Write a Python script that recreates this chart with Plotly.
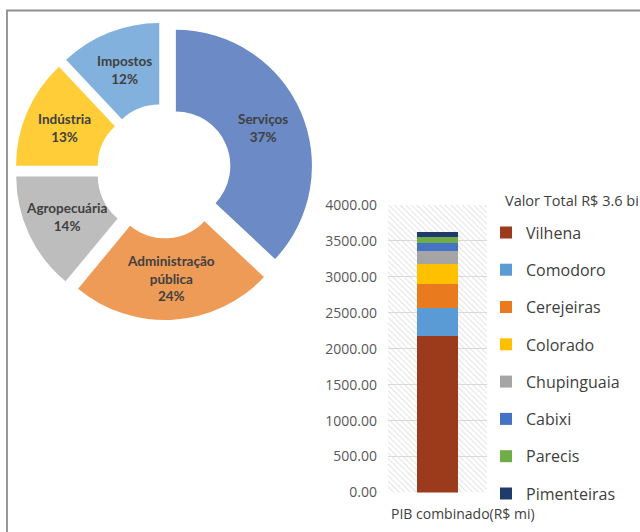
import base64
import math
import plotly.graph_objects as go

# Composição do PIB por setor (%)
setores = ["Serviços", "Administração<br>pública", "Agropecuária", "Indústria", "Impostos"]
participacao = [37, 24, 14, 13, 12]
cores_setores = ["#6b8ac6", "#ee9b57", "#bdbdbd", "#ffcd38", "#83b1dd"]

# PIB por município (R$ mi)
municipios = ["Vilhena", "Comodoro", "Cerejeiras", "Colorado",
              "Chupinguaia", "Cabixi", "Parecis", "Pimenteiras"]
pib = [2175, 395, 325, 280, 185, 115, 80, 75]
cores_municipios = ["#9c3b1c", "#5b9bd5", "#ea7a1e", "#ffc000",
                    "#a5a5a5", "#4472c4", "#70ad47", "#1f3b6b"]
categoria = ["PIB combinado(R$ mi)"]
titulo_legenda = "Valor Total R$ 3.6 bi"
y_ticks = [0, 500, 1000, 1500, 2000, 2500, 3000, 3500, 4000]

W, H = 640, 532
FONT = "Open Sans"
FONT_PIE = "Lato"


def px(x):
    return x / W


def py(y):
    return 1 - y / H


fig = go.Figure()

# Donut of the sector shares (exploded slices)
cx, cy, half = 164, 171, 149
HOLE, PULL = 0.40, 0.095
fig.add_trace(go.Pie(
    labels=setores,
    values=participacao,
    marker=dict(colors=cores_setores, line=dict(width=0)),
    hole=HOLE,
    pull=[PULL] * len(setores),
    sort=False,
    direction="clockwise",
    rotation=0,
    textinfo="none",
    hoverinfo="label+percent",
    showlegend=False,
    domain=dict(x=[px(cx - half), px(cx + half)], y=[py(cy + half), py(cy - half)]),
))

# Slice labels at the middle of each (pulled) ring segment
radius = 2 * half / (2 + 2 * PULL)
r_text = radius * (1 + HOLE) / 2 + radius * PULL
total = sum(participacao)
annotations = []
acc = 0
for lab, v in zip(setores, participacao):
    ang = 2 * math.pi * (acc + v / 2) / total
    acc += v
    tx = cx + r_text * math.sin(ang)
    ty = cy - r_text * math.cos(ang)
    annotations.append(dict(
        text=f"<b>{lab}<br>{round(100 * v / total)}%</b>",
        x=px(tx), y=py(ty), xref="paper", yref="paper",
        xanchor="center", yanchor="middle", showarrow=False,
        font=dict(family=FONT_PIE, size=13.5, color="#404040"),
    ))

# Stacked bar of municipal GDP
for nome, valor, cor in zip(municipios, pib, cores_municipios):
    fig.add_trace(go.Bar(
        x=categoria, y=[valor], name=nome,
        marker=dict(color=cor, line=dict(width=0)),
        width=0.41, legendgroup=nome,
    ))

# Diagonal hatch used as the plot-area background
hatch_svg = (
    '<svg xmlns="http://www.w3.org/2000/svg" width="99" height="288">'
    '<defs><pattern id="h" width="4" height="4" patternUnits="userSpaceOnUse" '
    'patternTransform="rotate(-45)">'
    '<line x1="0" y1="0" x2="0" y2="4" stroke="#d6d6d6" stroke-width="1.3"/>'
    '</pattern></defs>'
    '<rect width="99" height="288" fill="white"/>'
    '<rect width="99" height="288" fill="url(#h)"/></svg>'
)
hatch_uri = "data:image/svg+xml;base64," + base64.b64encode(hatch_svg.encode()).decode()

annotations += [
    dict(text=titulo_legenda, x=px(503), y=py(200), xref="paper", yref="paper",
         xanchor="left", yanchor="middle", showarrow=False,
         font=dict(family=FONT, size=14.5, color="#404040")),
    dict(text=categoria[0], x=px(389), y=py(513), xref="paper", yref="paper",
         xanchor="left", yanchor="middle", showarrow=False,
         font=dict(family=FONT, size=14, color="#404040")),
]

fig.update_layout(
    width=W, height=H,
    margin=dict(l=0, r=0, t=0, b=0, autoexpand=False),
    paper_bgcolor="white",
    plot_bgcolor="rgba(0,0,0,0)",
    barmode="stack",
    font=dict(family=FONT, color="#404040"),
    xaxis=dict(
        domain=[px(388), px(487)], range=[-0.5, 0.5],
        showticklabels=False, showgrid=False, zeroline=False, showline=False,
    ),
    yaxis=dict(
        domain=[py(492.5), py(205)], range=[0, 4000],
        tickvals=y_ticks, tickformat=".2f",
        gridcolor="#d9d9d9", gridwidth=1,
        zeroline=False, showline=False,
        tickfont=dict(family=FONT, size=14, color="#595959"),
        ticklabelstandoff=10,
    ),
    legend=dict(
        x=px(486), y=py(215.5), xanchor="left", yanchor="top",
        traceorder="grouped", tracegroupgap=13.5,
        font=dict(family=FONT, size=16, color="#404040"),
        bgcolor="rgba(0,0,0,0)",
    ),
    images=[dict(
        source=hatch_uri, xref="x domain", yref="y domain",
        x=0, y=1, sizex=1, sizey=1, xanchor="left", yanchor="top",
        sizing="stretch", layer="below",
    )],
    annotations=annotations,
    shapes=[dict(
        type="rect", xref="paper", yref="paper",
        x0=px(7), x1=1.2, y0=-0.2, y1=py(10.5),
        line=dict(color="#8e8e8e", width=1.8), fillcolor="rgba(0,0,0,0)",
    )],
)

fig.write_html("out.html")
